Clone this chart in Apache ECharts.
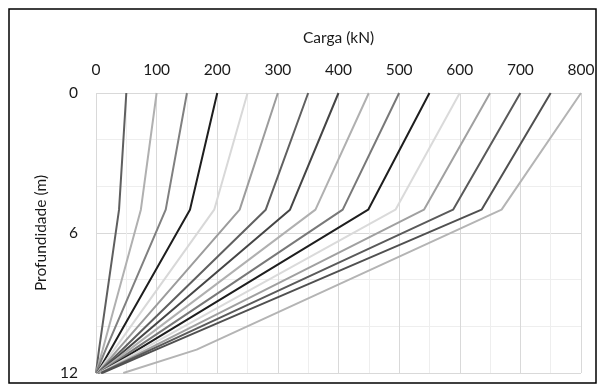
<!DOCTYPE html>
<html>
<head>
<meta charset="utf-8">
<script src="https://cdn.jsdelivr.net/npm/echarts@6/dist/echarts.min.js"></script>
<style>
html,body{margin:0;padding:0;background:#fff;}
#chart{width:600px;height:387px;}
</style>
</head>
<body>
<div id="chart"></div>
<script>
// Depths (m) at which each curve is given
var depths = [0, 5, 11, 12];
// Load (kN) of each curve at those depths
var load01 = [50, 38, 5, 0];
var load02 = [100, 74, 11, 0];
var load03 = [150, 115, 16, 0];
var load04 = [200, 155, 24, 2];
var load05 = [250, 195, 30, 2];
var load06 = [300, 237, 36, 3];
var load07 = [350, 280, 43, 3];
var load08 = [400, 320, 49, 4];
var load09 = [450, 362, 55, 4];
var load10 = [500, 407, 62, 5];
var load11 = [550, 449, 69, 6];
var load12 = [600, 494, 76, 6];
var load13 = [650, 541, 84, 8];
var load14 = [700, 589, 91, 8];
var load15 = [750, 636, 99, 10];
var load16 = [800, 669, 166, 45];
var curves = [load01, load02, load03, load04, load05, load06, load07, load08,
              load09, load10, load11, load12, load13, load14, load15, load16];
var xTicks = [0, 100, 200, 300, 400, 500, 600, 700, 800];
var yTicks = [0, 6, 12];
var xTitle = 'Carga (kN)';
var yTitle = 'Profundidade (m)';

var colors = ['#5f5f5f', '#b0b0b0', '#808080', '#1e1e1e', '#d8d8d8', '#9c9c9c', '#606060', '#454545',
              '#b0b0b0', '#787878', '#1e1e1e', '#dadada', '#a0a0a0', '#5a5a5a', '#505050', '#b4b4b4'];

var font = 'Lato';
var fs = 15.5;
var series = curves.map(function (c, i) {
  return {
    type: 'line',
    data: c.map(function (v, k) { return [v, depths[k]]; }),
    showSymbol: false,
    symbol: 'none',
    lineStyle: { color: colors[i], width: 2 },
    silent: true,
    animation: false
  };
});

var chart = echarts.init(document.getElementById('chart'), null, { renderer: 'canvas' });
chart.setOption({
  animation: false,
  backgroundColor: '#fff',
  graphic: [{
    type: 'rect',
    shape: { x: 9, y: 9, width: 587, height: 374 },
    style: { fill: 'none', stroke: '#000', lineWidth: 1.5 },
    z: 100
  }],
  grid: { left: 96, top: 93, right: 19, bottom: 14, containLabel: false },
  xAxis: {
    type: 'value',
    position: 'top',
    min: xTicks[0],
    max: xTicks[xTicks.length - 1],
    interval: 100,
    name: xTitle,
    nameLocation: 'middle',
    nameGap: 47,
    nameTextStyle: { fontFamily: font, fontSize: fs, color: '#1a1a1a' },
    axisLine: { show: false },
    axisTick: { show: false },
    axisLabel: { fontFamily: font, fontSize: fs, color: '#1a1a1a', margin: 15 },
    splitLine: { show: true, lineStyle: { color: '#d9d9d9', width: 1 } },
    minorTick: { show: false, splitNumber: 2 },
    minorSplitLine: { show: true, lineStyle: { color: '#eeeeee', width: 1 } }
  },
  yAxis: {
    type: 'value',
    inverse: true,
    min: yTicks[0],
    max: yTicks[yTicks.length - 1],
    interval: 6,
    name: yTitle,
    nameLocation: 'middle',
    nameGap: 45,
    nameRotate: 90,
    nameTextStyle: { fontFamily: font, fontSize: fs, color: '#1a1a1a' },
    axisLine: { show: false },
    axisTick: { show: false },
    axisLabel: { fontFamily: font, fontSize: fs, color: '#1a1a1a', margin: 18 },
    splitLine: { show: true, lineStyle: { color: '#d9d9d9', width: 1 } },
    minorTick: { show: false, splitNumber: 3 },
    minorSplitLine: { show: true, lineStyle: { color: '#eeeeee', width: 1 } }
  },
  series: series
});
</script>
</body>
</html>
